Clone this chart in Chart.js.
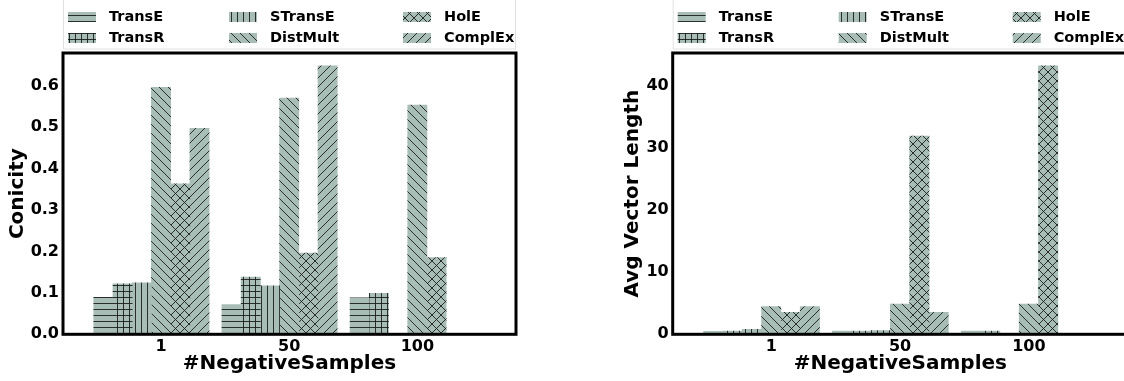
<!DOCTYPE html>
<html>
<head>
<meta charset="utf-8">
<script src="https://cdn.jsdelivr.net/npm/chart.js@4.4.1/dist/chart.umd.min.js"></script>
<style>
  html, body { margin: 0; padding: 0; background: #fff; overflow: hidden; }
  body { width: 1124px; height: 381px; position: relative; }
  .box { position: absolute; top: 0; height: 381px; }
  #left { left: 0; width: 562px; }
  #right { left: 562px; width: 566px; }
</style>
</head>
<body>
<div class="box" id="left"><canvas id="conicity"></canvas></div>
<div class="box" id="right"><canvas id="veclen"></canvas></div>
<script>
// categories / series
const groups = ["1", "50", "100"];
const models = ["TransE", "TransR", "STransE", "DistMult", "HolE", "ComplEx"];
const hatches = ["-", "+", "|", "\\", "x", "/"];

// Conicity
const conTransE   = [0.089, 0.072, 0.088];
const conTransR   = [0.122, 0.138, 0.099];
const conSTransE  = [0.124, 0.117, 0];
const conDistMult = [0.596, 0.570, 0.553];
const conHolE     = [0.363, 0.196, 0.185];
const conComplEx  = [0.497, 0.648, 0];

// Avg vector length
const lenTransE   = [0.48, 0.50, 0.50];
const lenTransR   = [0.50, 0.50, 0.50];
const lenSTransE  = [0.80, 0.60, 0];
const lenDistMult = [4.44, 4.88, 4.88];
const lenHolE     = [3.54, 31.9, 43.2];
const lenComplEx  = [4.44, 3.54, 0];

const conTicks = [0, 0.1, 0.2, 0.3, 0.4, 0.5, 0.6];
const lenTicks = [0, 10, 20, 30, 40];

Chart.defaults.font.family = '"DejaVu Sans", sans-serif';
Chart.defaults.font.weight = 'bold';
Chart.defaults.color = '#000';

const fillColor = '#a7bdb6';
const hatchColor = 'rgba(25,30,28,0.9)';

// build a hatch pattern like matplotlib's
function makeHatch(kind) {
  const s = (kind === '-' || kind === '|' || kind === '+') ? 6 : 9;
  const c = document.createElement('canvas');
  c.width = s; c.height = s;
  const g = c.getContext('2d');
  g.fillStyle = fillColor;
  g.fillRect(0, 0, s, s);
  g.strokeStyle = hatchColor;
  g.lineWidth = 1;
  g.beginPath();
  const m = Math.floor(s / 2) + 0.5;
  if (kind === '-' || kind === '+') { g.moveTo(0, m); g.lineTo(s, m); }
  if (kind === '|' || kind === '+') { g.moveTo(m, 0); g.lineTo(m, s); }
  if (kind === '\\' || kind === 'x') {
    g.moveTo(0, 0); g.lineTo(s, s);
    g.moveTo(-1, s - 1); g.lineTo(1, s + 1);
    g.moveTo(s - 1, -1); g.lineTo(s + 1, 1);
  }
  if (kind === '/' || kind === 'x') {
    g.moveTo(0, s); g.lineTo(s, 0);
    g.moveTo(-1, 1); g.lineTo(1, -1);
    g.moveTo(s - 1, s + 1); g.lineTo(s + 1, s - 1);
  }
  g.stroke();
  return g.createPattern(c, 'repeat');
}

// legend (3 columns x 2 rows) + box frame
const legendTextX = [46, 207, 381];
const legendRowY = [17, 38];
const framePlugin = {
  id: 'frameAndLegend',
  afterDraw(chart) {
    const { ctx, chartArea: a } = chart;
    ctx.save();
    ctx.strokeStyle = 'rgba(0,0,0,0.12)';
    ctx.lineWidth = 1;
    ctx.strokeRect(a.left + 0.5, -4, a.right - a.left - 1, 53);
    ctx.font = 'bold 14.5px "DejaVu Sans"';
    ctx.textBaseline = 'middle';
    chart.data.datasets.forEach((ds, i) => {
      const tx = a.left + legendTextX[Math.floor(i / 2)];
      const y = legendRowY[i % 2];
      ctx.fillStyle = ds.backgroundColor;
      ctx.fillRect(tx - 41, y - 5, 28, 10);
      ctx.fillStyle = '#000';
      ctx.fillText(ds.label, tx, y);
    });
    ctx.strokeStyle = '#000';
    ctx.lineWidth = 3;
    ctx.strokeRect(a.left, a.top, a.right - a.left, a.bottom - a.top);
    ctx.restore();
  }
};

const barStep = 0.15;

function makeChart(id, series, yTicks, yMax, yTitle, padLeft, yWidth, titlePad, fmt) {
  const datasets = series.map((vals, i) => ({
    label: models[i],
    data: vals.map((v, gi) => ({ x: gi + (i - 3) * barStep, y: v })),
    backgroundColor: makeHatch(hatches[i]),
    borderWidth: 0,
    grouped: false,
    categoryPercentage: 1,
    barPercentage: 1
  }));
  return new Chart(document.getElementById(id), {
    type: 'bar',
    data: { datasets },
    plugins: [framePlugin],
    options: {
      responsive: true,
      maintainAspectRatio: false,
      animation: false,
      events: [],
      layout: { padding: { top: 53, left: padLeft, right: id === 'conicity' ? 46 : 0, bottom: 0 } },
      plugins: { legend: { display: false }, tooltip: { enabled: false } },
      scales: {
        x: {
          type: 'linear',
          min: -0.765,
          max: 2.77,
          offset: false,
          grid: { display: false, drawTicks: false },
          border: { display: false },
          afterBuildTicks: s => { s.ticks = groups.map((g, i) => ({ value: i })); },
          afterFit: s => { s.height = 46.7; },
          ticks: {
            callback: v => groups[v],
            padding: 3,
            autoSkip: false,
            maxRotation: 0,
            font: { size: 16, weight: 'bold' },
            color: '#000'
          },
          title: {
            display: true,
            text: '#NegativeSamples',
            font: { size: 20, weight: 'bold', lineHeight: 1 },
            color: '#000',
            padding: { top: 0, bottom: 7 }
          }
        },
        y: {
          min: 0,
          max: yMax,
          grid: { display: false, drawTicks: false },
          border: { display: false },
          afterBuildTicks: s => { s.ticks = yTicks.map(v => ({ value: v })); },
          afterFit: s => { s.width = yWidth; },
          ticks: {
            callback: fmt,
            padding: 4,
            font: { size: 16, weight: 'bold' },
            color: '#000'
          },
          title: {
            display: true,
            text: yTitle,
            font: { size: 20, weight: 'bold', lineHeight: 1 },
            color: '#000',
            padding: { top: titlePad, bottom: 0 }
          }
        }
      }
    }
  });
}

makeChart('conicity',
  [conTransE, conTransR, conSTransE, conDistMult, conHolE, conComplEx],
  conTicks, 0.679, 'Conicity', 0, 63, 8, v => v.toFixed(1));

makeChart('veclen',
  [lenTransE, lenTransR, lenSTransE, lenDistMult, lenHolE, lenComplEx],
  lenTicks, 45.26, 'Avg Vector Length', 52, 58.7, 9, v => String(v));
</script>
</body>
</html>
